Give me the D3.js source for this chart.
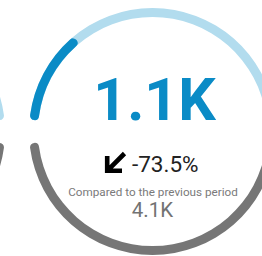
<!DOCTYPE html>
<html>
<head>
<meta charset="utf-8">
<script src="https://cdn.jsdelivr.net/npm/d3@7"></script>
<style>
  html, body { margin: 0; padding: 0; background: #ffffff; }
  svg { display: block; }
</style>
</head>
<body>
<svg id="chart" width="262" height="256"></svg>
<script>
// ---- data ----
const currentValue = [1087];        // current period
const previousValue = [4100];       // previous period
const neighborValues = [0, 4100];   // partially visible neighbouring gauge (current, previous)
const comparisonLabel = ["Compared to the previous period"];

// ---- layout ----
const W = 262, H = 256;
const cx = 152.5, cy = 131.5;
const neighborCx = -118.5;
const rOuter = 123.5, thick = 9, rInner = rOuter - thick;
const gap = 5.5; // degrees of gap at each side
const rad = d => d * Math.PI / 180;

const colDark = "#0a8bc6", colLight = "#b2dcee", colGray = "#767676";

const svg = d3.select("#chart");

const arc = d3.arc()
  .innerRadius(rInner)
  .outerRadius(rOuter)
  .cornerRadius(thick / 2);

const topStart = rad(-90 + gap), topEnd = rad(90 - gap);
const botStart = rad(90 + gap), botEnd = rad(270 - gap);

function drawGauge(g, cur, prev) {
  const topScale = d3.scaleLinear().domain([0, prev]).range([topStart, topEnd]).clamp(true);
  const botScale = d3.scaleLinear().domain([0, prev]).range([botEnd, botStart]).clamp(true);
  g.append("path").attr("d", arc({startAngle: topStart, endAngle: topEnd})).attr("fill", colLight);
  if (cur > 0) {
    g.append("path").attr("d", arc({startAngle: topStart, endAngle: topScale(cur)})).attr("fill", colDark);
  }
  g.append("path").attr("d", arc({startAngle: botScale(prev), endAngle: botEnd})).attr("fill", colGray);
}

drawGauge(svg.append("g").attr("transform", `translate(${neighborCx},${cy})`), neighborValues[0], neighborValues[1]);

const main = svg.append("g").attr("transform", `translate(${cx},${cy})`);
drawGauge(main, currentValue[0], previousValue[0]);

const fmt = v => d3.format(".2~s")(v).replace("k", "K");
const change = (currentValue[0] - previousValue[0]) / previousValue[0];
const pct = d3.format(".1f")(change * 100).replace("\u2212", "-") + "%";

svg.append("text")
  .attr("x", cx + 2).attr("y", 120)
  .attr("text-anchor", "middle")
  .attr("font-family", "Roboto")
  .attr("font-weight", 700)
  .attr("font-size", 59)
  .attr("fill", colDark)
  .text(fmt(currentValue[0]));

svg.append("path")
  .attr("d", "M122,170.8 L107.2,170.8 L107.2,156 M107.2,170.8 L124.5,153.5")
  .attr("fill", "none")
  .attr("stroke", "#000")
  .attr("stroke-width", 4.6)
  .attr("stroke-linejoin", "miter");

svg.append("text")
  .attr("x", 132).attr("y", 171.5)
  .attr("font-family", "Roboto")
  .attr("font-size", 22.5)
  .attr("fill", "#222")
  .text(pct);

svg.append("text")
  .attr("x", cx + 0.5).attr("y", 196)
  .attr("text-anchor", "middle")
  .attr("font-family", "Roboto")
  .attr("font-size", 11.7)
  .attr("fill", "#7a7a7a")
  .text(comparisonLabel[0]);

svg.append("text")
  .attr("x", cx).attr("y", 217)
  .attr("text-anchor", "middle")
  .attr("font-family", "Roboto")
  .attr("font-size", 20.5)
  .attr("fill", "#727272")
  .text(fmt(previousValue[0]));
</script>
</body>
</html>
